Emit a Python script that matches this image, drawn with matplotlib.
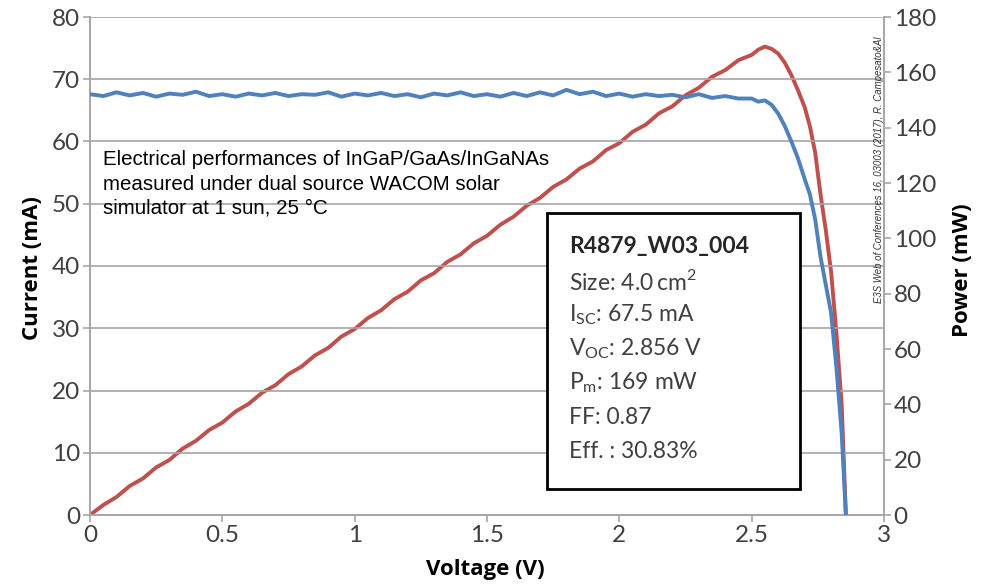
import matplotlib.pyplot as plt
from matplotlib.patches import Rectangle

plt.rcParams['font.family'] = ['Lato', 'DejaVu Sans']
plt.rcParams['mathtext.fontset'] = 'custom'
plt.rcParams['mathtext.rm'] = 'Lato'

voltage = [0.00, 0.05, 0.10, 0.15, 0.20, 0.25, 0.30, 0.35, 0.40, 0.45,
           0.50, 0.55, 0.60, 0.65, 0.70, 0.75, 0.80, 0.85, 0.90, 0.95,
           1.00, 1.05, 1.10, 1.15, 1.20, 1.25, 1.30, 1.35, 1.40, 1.45,
           1.50, 1.55, 1.60, 1.65, 1.70, 1.75, 1.80, 1.85, 1.90, 1.95,
           2.00, 2.05, 2.10, 2.15, 2.20, 2.25, 2.30, 2.35, 2.40, 2.45,
           2.50, 2.525, 2.55, 2.575, 2.60, 2.625, 2.65, 2.675, 2.70, 2.72,
           2.74, 2.76, 2.78, 2.80, 2.82, 2.84, 2.856]

current = [67.6, 67.3, 67.9, 67.4, 67.8, 67.2, 67.7, 67.5, 68.0, 67.3,
           67.6, 67.2, 67.7, 67.4, 67.8, 67.3, 67.6, 67.5, 67.9, 67.2,
           67.7, 67.4, 67.8, 67.3, 67.6, 67.1, 67.7, 67.4, 67.9, 67.3,
           67.6, 67.2, 67.8, 67.3, 67.9, 67.4, 68.3, 67.6, 68.0, 67.3,
           67.7, 67.2, 67.6, 67.3, 67.5, 67.1, 67.6, 67.0, 67.3, 66.9,
           66.9, 66.4, 66.6, 65.9, 64.5, 62.5, 60.0, 57.3, 54.0, 51.5,
           47.5, 41.5, 37.0, 32.5, 23.8, 13.2, 0.0]

power = [0.0, 3.6, 6.5, 10.5, 13.2, 17.2, 19.9, 24.0, 26.8, 30.7,
         33.4, 37.4, 40.2, 44.2, 46.9, 50.9, 53.7, 57.7, 60.4, 64.5,
         67.2, 71.2, 74.0, 78.0, 80.7, 84.8, 87.4, 91.5, 94.2, 98.2,
         100.9, 104.9, 107.8, 111.8, 114.6, 118.6, 121.3, 125.2, 127.8, 131.9,
         134.4, 138.5, 141.1, 145.2, 147.7, 151.7, 154.4, 158.4, 160.8, 164.4,
         166.3, 168.2, 169.3, 168.5, 166.8, 163.5, 159.0, 153.5, 147.5, 140.5,
         131.0, 116.0, 103.0, 88.0, 66.0, 40.0, 0.0]

stats = ['Size: 4.0$\\,$cm$^2$',
         'I$_{\\mathrm{SC}}$: 67.5 mA',
         'V$_{\\mathrm{OC}}$: 2.856 V',
         'P$_{\\mathrm{m}}$: 169 mW',
         'FF: 0.87',
         'Eff. : 30.83%']

BLUE, RED = '#4F81BD', '#C0504D'
GRID, TXT = '#A6A6A6', '#404040'
W, H = 985, 585

fig = plt.figure(figsize=(9.85, 5.85), dpi=100)
ax = fig.add_axes([90 / W, 70 / H, 794 / W, 498 / H])
ax2 = ax.twinx()

ax.plot(voltage, current, color=BLUE, lw=2.8, zorder=3)
ax2.plot(voltage, power, color=RED, lw=2.8, zorder=3)

ax.set_xlim(0, 3)
ax.set_ylim(0, 80)
ax2.set_ylim(0, 180)
ax.set_xticks([0, 0.5, 1, 1.5, 2, 2.5, 3])
ax.set_xticklabels(['0', '0.5', '1', '1.5', '2', '2.5', '3'])
ax.set_yticks(range(0, 81, 10))
ax2.set_yticks(range(0, 181, 20))

ax.yaxis.grid(True, color=GRID, lw=1.2)
ax.set_axisbelow(True)
for a in (ax, ax2):
    a.spines['top'].set_visible(False)
    for s in ('left', 'right', 'bottom'):
        a.spines[s].set_color(GRID)
        a.spines[s].set_linewidth(1.2)
    a.tick_params(colors=GRID, labelcolor=TXT, labelsize=17.5, length=5,
                  width=1.2, pad=2)
ax.set_zorder(ax2.get_zorder() + 1)
ax.patch.set_visible(False)

# axis titles
lab = dict(fontsize=16, fontweight='bold', color='black',
           family=['Open Sans', 'DejaVu Sans'], ha='center', va='center')
fig.text(485 / W, 1 - 570 / H, 'Voltage (V)', **lab)
fig.text(33 / W, 1 - 268 / H, 'Current (mA)', rotation=90, **lab)
fig.text(963 / W, 1 - 270 / H, 'Power (mW)', rotation=90, **lab)

# note text
fig.text(103 / W, 1 - 184 / H,
         'Electrical performances of InGaP/GaAs/InGaNAs\n'
         'measured under dual source WACOM solar\n'
         'simulator at 1 sun, 25 \u00b0C',
         family=['Liberation Sans', 'DejaVu Sans'],
         fontsize=14.8, va='center', ha='left', linespacing=1.35, zorder=5)

# stats box
box = Rectangle((547, H - 489), 253, 276, transform=None, fill=True,
                facecolor='white', edgecolor='black', lw=2, zorder=6)
fig.patches.append(box)
fig.text(569 / W, 1 - 246 / H, 'R4879_W03_004', fontsize=16.5,
         fontweight='bold', color='#262626', va='center', zorder=7)
for i, s in enumerate(stats):
    fig.text(569 / W, 1 - (281 + i * 34) / H, s, fontsize=16.5,
             color='#404040', va='center', zorder=7)

# citation
fig.text(879 / W, 1 - 170 / H,
         'E3S Web of Conferences 16, 03003 (2017), R. Campesato&Al',
         rotation=90, fontsize=6.9, style='italic', color='#333333',
         family=['Liberation Sans', 'DejaVu Sans'], ha='center', va='center')

fig.savefig('out.png', dpi=100, facecolor='white')
